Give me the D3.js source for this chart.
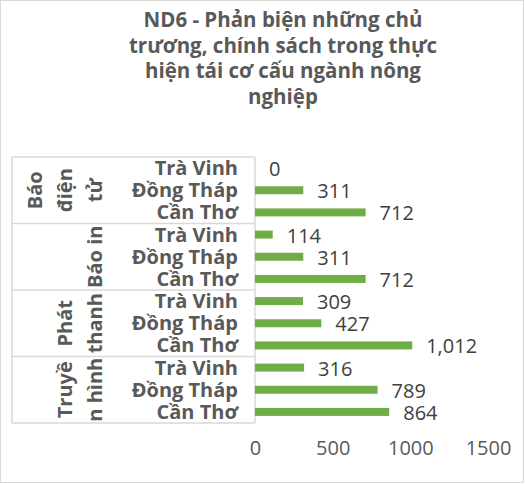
<!DOCTYPE html><html><head><meta charset="utf-8"><script src="https://cdn.jsdelivr.net/npm/d3@7"></script>
<style>body{margin:0;background:#fff}svg{font-family:"Open Sans",sans-serif}</style></head><body><svg id="c" width="525" height="484"></svg><script>
const titleLines=["ND6 - Phản biện những chủ","trương, chính sách trong thực","hiện tái cơ cấu ngành nông","nghiệp"];
const groups=[["Báo","điện","tử"],["Báo in"],["Phát","thanh"],["Truyề","n hình"]];
const cats=["Trà Vinh","Đồng Tháp","Cần Thơ"];
const values=[[0,311,712],[114,311,712],[309,427,1012],[316,789,864]];
const ticks=[0,500,1000,1500];
const svg=d3.select("#c");
svg.append("rect").attr("x",0.5).attr("y",0.5).attr("width",523).attr("height",482).attr("fill","#fff").attr("stroke","#d9d9d9");
svg.selectAll(".t").data(titleLines).join("text").attr("x",283).attr("y",(d,i)=>27+i*25.5).attr("text-anchor","middle").attr("font-size",20.5).attr("font-weight","bold").attr("fill","#595959").text(d=>d);
const x=d3.scaleLinear().domain([0,1500]).range([255,488]);
const rows=[];values.forEach((g,gi)=>g.forEach((v,ci)=>rows.push({gi,ci,v,id:gi*3+ci})));
const y=d3.scaleBand().domain(d3.range(12)).range([157,423]);
const fr="#d9d9d9";
[157,223.5,290,356.5,423].forEach(yy=>svg.append("line").attr("x1",12).attr("x2",255).attr("y1",yy).attr("y2",yy).attr("stroke",fr).attr("stroke-width",1.5));
svg.append("line").attr("x1",12).attr("x2",12).attr("y1",157).attr("y2",423).attr("stroke",fr).attr("stroke-width",1.5);
svg.append("line").attr("x1",255).attr("x2",255).attr("y1",157).attr("y2",423).attr("stroke",fr).attr("stroke-width",1.5);
svg.selectAll(".b").data(rows).join("rect").attr("x",x(0)).attr("y",d=>y(d.id)+y.bandwidth()/2-4).attr("width",d=>x(d.v)-x(0)).attr("height",8).attr("fill","#70AD47");
svg.selectAll(".v").data(rows).join("text").attr("x",d=>x(d.v)+14).attr("y",d=>y(d.id)+y.bandwidth()/2+8).attr("font-size",20).attr("fill","#404040").text(d=>d3.format(",")(d.v));
svg.selectAll(".c").data(rows).join("text").attr("x",238).attr("y",d=>y(d.id)+y.bandwidth()/2+7).attr("text-anchor","end").attr("font-size",20).attr("font-weight","bold").attr("fill","#595959").text(d=>cats[d.ci]);
groups.forEach((g,gi)=>{const cy=(y(gi*3)+y(gi*3+2)+y.bandwidth())/2;
 g.forEach((l,li)=>{const cx=102-(g.length-1-li)*30;
  svg.append("text").attr("transform",`translate(${cx},${cy}) rotate(-90)`).attr("text-anchor","middle").attr("font-size",20).attr("font-weight","bold").attr("fill","#595959").text(l);});});
const ax=svg.append("g").attr("transform","translate(0,423)").call(d3.axisBottom(x).tickValues(ticks).tickSize(0).tickPadding(18).tickFormat(d3.format("d")));
ax.select(".domain").remove();ax.selectAll("text").attr("font-size",20).attr("fill","#595959").attr("font-family","Open Sans,sans-serif");
</script></body></html>
